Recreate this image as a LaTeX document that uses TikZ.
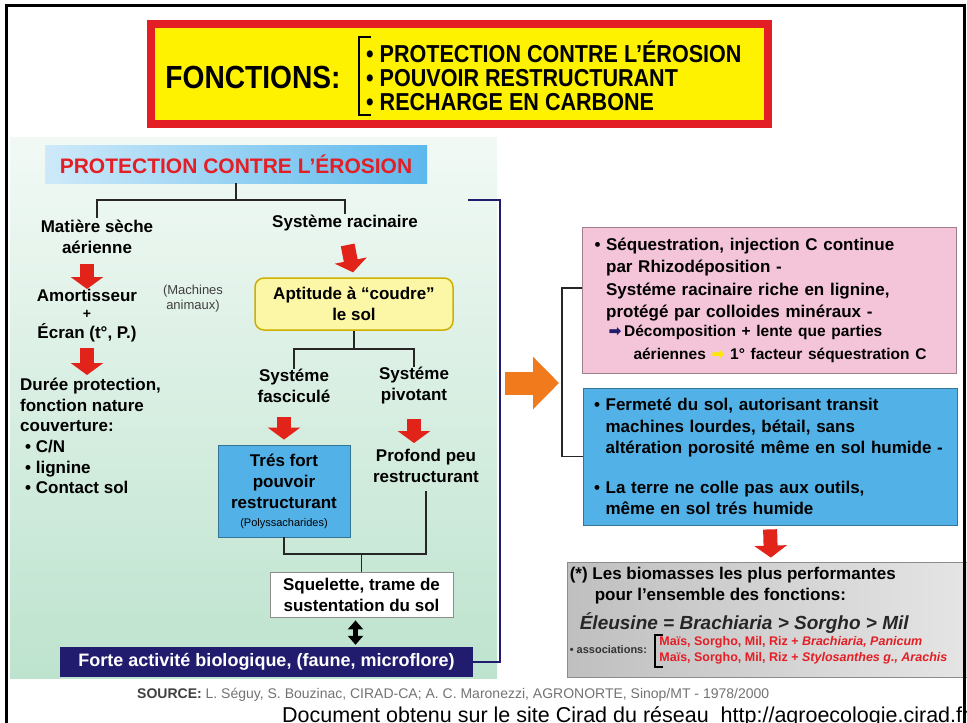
\documentclass[tikz,border=0pt]{standalone}
\usepackage{fontspec}
\setmainfont{Liberation Sans}
\newfontfamily\condfont[FakeStretch=0.88]{Liberation Sans}
\newfontfamily\symfont{DejaVu Sans}
\usetikzlibrary{positioning,arrows.meta,calc}

\definecolor{titlered}{HTML}{E31E24}
\definecolor{titleyellow}{HTML}{FFF200}
\definecolor{headblue}{HTML}{5CB8EC}
\definecolor{mint}{HTML}{BDE3CE}
\definecolor{rosebox}{HTML}{F4C4D8}
\definecolor{skyblue}{HTML}{52B2E8}
\definecolor{navy}{HTML}{221C6E}
\definecolor{arrowred}{HTML}{E2231A}
\definecolor{arroworange}{HTML}{F07A1C}
\definecolor{paleyellow}{HTML}{FBF7A6}
\definecolor{goldline}{HTML}{CDB000}

\newcommand{\ind}{\phantom{• }}

\begin{document}
\begin{tikzpicture}[
    x=1pt, y=1pt,
    txt/.style={font=\bfseries\fontsize{17}{21}\selectfont, align=center, inner sep=0pt},
    note/.style={font=\fontsize{13}{15}\selectfont, align=center, inner sep=0pt, text=black!75},
    colbox/.style={draw=#1!65!black, fill=#1, line width=0.8pt, inner sep=0pt},
    redarrow/.style={draw=arrowred, line width=14pt, -{Triangle[length=12pt,width=32pt]}},
    bigarrow/.style={draw=arroworange, line width=23pt, -{Triangle[length=26pt,width=51pt]}},
    link/.style={draw=black!85, line width=1.8pt},
    navyline/.style={draw=navy, line width=2pt}
]

\useasboundingbox (0,0) rectangle (967,-723);
\fill[white] (0,0) rectangle (967,-723);
\clip (0,0) rectangle (967,-723);

% title
\node[draw=titlered, line width=8pt, fill=titleyellow, minimum width=617pt, minimum height=100pt] (title) at (459.5,-74) {};
\node[font=\condfont\bfseries\fontsize{32}{32}\selectfont, inner sep=0pt] (fonct) at (253,-77) {FONCTIONS:};
\node[font=\condfont\bfseries\fontsize{24.5}{24}\selectfont, align=left, inner sep=0pt, anchor=west] (funcs) at (366,-76)
    {• PROTECTION CONTRE L’ÉROSION\\• POUVOIR RESTRUCTURANT\\• RECHARGE EN CARBONE};
\draw[line width=2.5pt] ($(funcs.north west)+(5,4)$) -| ($(funcs.south west)+(-7,-4)$) -- ++(12,0);

% left panel
\node[minimum width=487pt, minimum height=541pt, inner sep=0pt, top color=mint!20, bottom color=mint] (panel) at (253.5,-407.5) {};
\node[left color=headblue!30, right color=headblue, minimum width=382pt, minimum height=38pt, inner sep=0pt,
      text=titlered, font=\bfseries\fontsize{21}{21}\selectfont] (head) at (236,-164) {PROTECTION CONTRE L’ÉROSION};

\node[txt] (mat) at (97,-237) {Matière sèche\\aérienne};
\node[txt] (sys) at (345,-223) {Système racinaire};
\node[txt, anchor=north] (amort) at (87,-289) {Amortisseur\\[-4pt]{\fontsize{14}{14}\selectfont +}\\[-1pt]Écran (t°, P.)};
\node[note] (mach) at (193,-299) {(Machines\\animaux)};
\node[txt, anchor=north west, align=left, font=\bfseries\fontsize{17}{20.6}\selectfont] (dur) at (20,-378)
    {Durée protection,\\fonction nature\\couverture:\\\hspace*{5pt}• C/N\\\hspace*{5pt}• lignine\\\hspace*{5pt}• Contact sol};

\node[txt, draw=goldline, line width=1.5pt, fill=paleyellow, rounded corners=9pt, minimum width=198pt, minimum height=52pt] (apt) at (354,-304)
    {Aptitude à “coudre”\\le sol};
\node[txt] (fasc) at (294,-386) {Systéme\\fasciculé};
\node[txt] (piv) at (414,-386) {Systéme\\pivotant};
\node[txt, colbox=skyblue, minimum width=132pt, minimum height=92pt] (tres) at (284,-491)
    {Trés fort\\pouvoir\\restructurant\\[-3pt]{\mdseries\fontsize{11}{11}\selectfont (Polyssacharides)}};
\node[txt] (prof) at (426,-466) {Profond peu\\restructurant};
\node[txt, draw=black!45, fill=white, line width=0.8pt, minimum width=183pt, minimum height=45pt] (sq) at (361.5,-594.5)
    {Squelette, trame de\\sustentation du sol};
\node[txt, fill=navy, text=white, font=\bfseries\fontsize{18}{18}\selectfont, minimum width=413pt, minimum height=30pt] (forte) at (266.5,-662)
    {Forte activité biologique, (faune, microflore)};

% tree links
\coordinate (fork) at ($(head.south)+(0,-17)$);
\draw[link] (head.south) -- (fork);
\draw[link] ($(mat.north)+(0,2)$) |- (fork) -| ($(sys.north)+(0,1)$);
\coordinate (fork2) at ($(apt.south)+(0,-18)$);
\draw[link] (apt.south) -- (fork2);
\draw[link] (fasc.north) |- (fork2) -| (piv.north);
\coordinate (fork3) at (sq.north |- 0,-554);
\draw[link] (tres.south) |- (fork3) -| ($(prof.south)+(0,-8)$);
\draw[link] (fork3) -- (sq.north);

% red arrows
\draw[redarrow, shorten <=10pt] (mat.south -| amort.north) -- (amort.north);
\draw[redarrow, shorten <=6pt, shorten >=3pt] (amort.south) -- (amort.south |- dur.north);
\draw[redarrow, shorten <=14pt, shorten >=5pt] (sys.south) -- (apt.north);
\draw[redarrow] ($(fasc.south -| tres.north)+(0,-14)$) -- ($(tres.north)+(0,5)$);
\draw[redarrow] ($(piv.south)+(0,-14)$) -- ($(piv.south |- prof.north)+(0,6)$);
\draw[line width=4.5pt, {Triangle[length=9pt,width=15pt]}-{Triangle[length=9pt,width=15pt]}, shorten <=3pt, shorten >=2pt]
    ($(sq.south)+(-6,0)$) -- ($(sq.south |- forte.north)+(-6,0)$);

% navy bracket and orange arrow
\coordinate (rtop) at (500,-200);
\draw[navyline] (forte.east) -| (rtop) -- ++(-32,0);
\coordinate (panelout) at (505,-383);
\coordinate (bkin) at (562,-383);
\draw[bigarrow, shorten >=3pt] (panelout) -- (bkin);

% right side
\node[txt, colbox=rosebox, align=left, text width=350pt, inner xsep=12pt, minimum height=146pt,
      font=\bfseries\fontsize{17}{22.5}\selectfont] (seq) at (769.5,-300)
    {• Séquestration, injection C continue\\
     \ind par Rhizodéposition -\\
     \ind Systéme racinaire riche en lignine,\\
     \ind protégé par colloides minéraux -\\[-1pt]
     \fontsize{15.5}{20}\selectfont\hspace*{14pt}{\symfont\color{navy}➡}\,Décomposition + lente que parties\\
     \hspace*{39pt}aériennes {\symfont\color{yellow!90!orange}➡} 1° facteur séquestration C};
\node[txt, colbox=skyblue, align=left, text width=352pt, inner xsep=11pt, minimum height=137pt,
      font=\bfseries\fontsize{17}{21.5}\selectfont] (firm) at (770,-456.5)
    {• Fermeté du sol, autorisant transit\\
     \ind machines lourdes, bétail, sans\\
     \ind altération porosité même en sol humide -\\[18pt]
     • La terre ne colle pas aux outils,\\
     \ind même en sol trés humide};
\draw[link] ([yshift=12pt]seq.west) -| (bkin) |- (firm.west);

\node[draw=black!45, line width=0.8pt, left color=black!25, right color=black!10, minimum width=408pt, minimum height=115pt] (best) at (771,-619.5) {};
\draw[redarrow, shorten <=4pt, shorten >=4pt] (firm.south) -- (best.north);
\node[txt, align=left, anchor=north west, font=\bfseries\fontsize{17}{21}\selectfont] (bestt) at ([xshift=3pt,yshift=-5pt]best.north west)
    {(*) Les biomasses les plus performantes\\\hspace*{25pt}pour l’ensemble des fonctions:};
\node[txt, anchor=north west, font=\bfseries\itshape\fontsize{19}{19}\selectfont, text=black!85] (ranks) at ([xshift=13pt,yshift=-51pt]best.north west)
    {Éleusine = Brachiaria > Sorgho > Mil};
\node[txt, anchor=west, font=\bfseries\fontsize{11}{11}\selectfont, text=black!80] (assoc) at ([xshift=3pt]best.west |- 0,-650)
    {• associations:};
\node[txt, anchor=west, align=left, text=titlered, font=\bfseries\fontsize{12.5}{16}\selectfont] (mixes) at ([xshift=12pt]assoc.east)
    {Maïs, Sorgho, Mil, Riz + \textit{Brachiaria, Panicum}\\Maïs, Sorgho, Mil, Riz + \textit{Stylosanthes g., Arachis}};
\draw[line width=2pt] ($(mixes.north west)+(4,1)$) -| ($(mixes.south west)+(-4,-3)$) -- ++(8,0);

% source
\node[anchor=west, inner sep=0pt, font=\fontsize{14}{14}\selectfont, text=black!55] (src) at (137,-695)
    {\textbf{\color{black!75}SOURCE:} L. Séguy, S. Bouzinac, CIRAD-CA; A. C. Maronezzi, AGRONORTE, Sinop/MT - 1978/2000};
\node[anchor=base west, inner sep=0pt, font=\fontsize{21.5}{21.5}\selectfont] (doc) at (282,-722)
    {Document obtenu sur le site Cirad du réseau \ http://agroecologie.cirad.fr};

% frame
\draw[line width=3pt] (6,-760) -- (6,-5) -- (964,-5) -- (964,-760);

\end{tikzpicture}
\end{document}
